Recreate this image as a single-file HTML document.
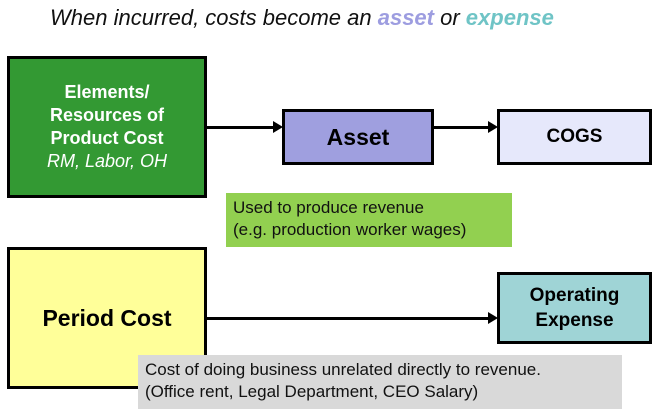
<!DOCTYPE html>
<html><head><style>
body{margin:0;width:656px;height:413px;background:#fff;position:relative;overflow:hidden;font-family:"Liberation Sans",sans-serif}
.b{position:absolute;box-sizing:border-box;border:3px solid #000;display:flex;align-items:center;justify-content:center;text-align:center;font-weight:bold}
.n{position:absolute;box-sizing:border-box;font-size:17px;line-height:22px;padding:4px 7px;color:#111}
.l{position:absolute;height:3px;background:#000}
.a{position:absolute;width:0;height:0;border-top:6px solid transparent;border-bottom:6px solid transparent;border-left:10px solid #000}
</style></head><body>
<div style="position:absolute;left:50px;top:5px;font-size:22px;font-style:italic;color:#111;white-space:nowrap">When incurred, costs become an <b style="color:#9d9de0">asset</b> or <b style="color:#6fc4c6">expense</b></div>
<div class="b" style="left:7px;top:56px;width:200px;height:142px;background:#339933;color:#fff;font-size:18px;line-height:23px"><div>Elements/<br>Resources of<br>Product Cost<br><i style="font-weight:normal">RM, Labor, OH</i></div></div>
<div class="l" style="left:207px;top:126px;width:68px"></div><div class="a" style="left:273px;top:121px"></div>
<div class="b" style="left:282px;top:109px;width:152px;height:56px;background:#9f9fdf;font-size:23px">Asset</div>
<div class="l" style="left:434px;top:126px;width:56px"></div><div class="a" style="left:488px;top:121px"></div>
<div class="b" style="left:497px;top:109px;width:155px;height:56px;background:#e6e8fb;font-size:19px">COGS</div>
<div class="n" style="left:226px;top:193px;width:286px;height:54px;background:#92d050">Used to produce revenue<br>(e.g. production worker wages)</div>
<div class="b" style="left:7px;top:247px;width:200px;height:142px;background:#ffff99;font-size:23px">Period Cost</div>
<div class="l" style="left:207px;top:317px;width:283px"></div><div class="a" style="left:488px;top:312px"></div>
<div class="b" style="left:497px;top:272px;width:155px;height:72px;background:#9fd4d6;font-size:19px;line-height:25px"><div>Operating<br>Expense</div></div>
<div class="n" style="left:138px;top:355px;width:484px;height:54px;background:#d9d9d9">Cost of doing business unrelated directly to revenue.<br>(Office rent, Legal Department, CEO Salary)</div>
</body></html>
